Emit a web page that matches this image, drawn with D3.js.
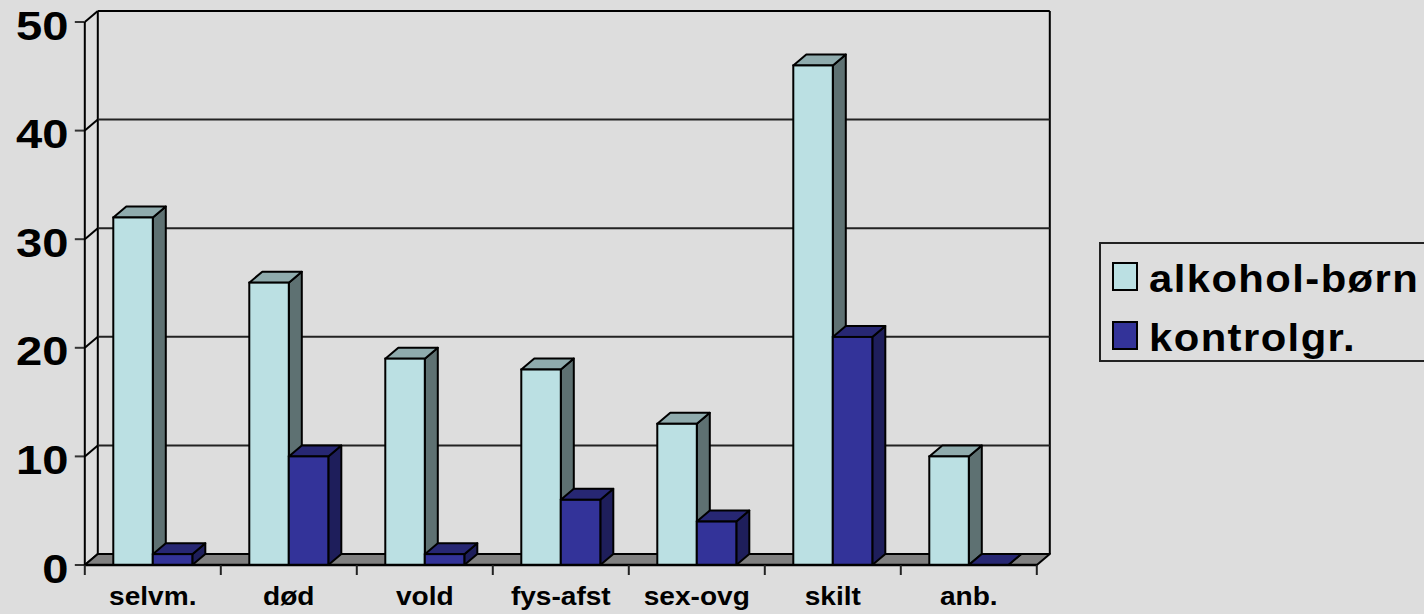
<!DOCTYPE html>
<html><head><meta charset="utf-8"><script src="https://cdn.jsdelivr.net/npm/d3@7"></script>
<style>html,body{margin:0;padding:0;background:#ddd;overflow:hidden}svg{display:block}text{font-family:"Liberation Sans",Arial,sans-serif;font-weight:bold;fill:#000}</style></head>
<body><svg width="1424" height="614"></svg>
<script>
const categories=["selvm.","død","vold","fys-afst","sex-ovg","skilt","anb."];
const seriesNames=["alkohol-børn","kontrolgr."];
const alkohol=[32,26,19,18,13,46,10];
const kontrol=[1,10,1,6,4,21,0];
const yTicks=[0,10,20,30,40,50];
const faces=[{front:"#BBE0E3",top:"#8FABAD",side:"#5E7172"},{front:"#333399",top:"#272773",side:"#1E1E5B"}];
const svg=d3.select("svg");
const x=d3.scaleBand().domain(categories).range([84.8,1036.8]);
const y=d3.scaleLinear().domain([0,50]).range([565,22]);
const dx=13,dy=-11,ink="#000";
const line=(a,b,c,d,w=2,col=ink)=>svg.append("line").attr("x1",a).attr("y1",b).attr("x2",c).attr("y2",d).attr("stroke",col).attr("stroke-width",w);
const poly=(pts,fill)=>svg.append("polygon").attr("points",pts.map(p=>p.join(",")).join(" ")).attr("fill",fill).attr("stroke",ink).attr("stroke-width",2).attr("stroke-linejoin","round");
const label=(px,py,size,sx,anchor,str,sp=0)=>svg.append("text").attr("transform",`translate(${px},${py}) scale(${sx},1)`).attr("text-anchor",anchor).attr("font-size",size).attr("letter-spacing",sp).text(str);
const [x0,x1]=x.range();
// walls
line(x0+dx,y(0)+dy,x0+dx,y(50)+dy);
line(x1+dx,y(0)+dy,x1+dx,y(50)+dy);
yTicks.forEach(t=>{
  line(x0+dx,y(t)+dy,x1+dx,y(t)+dy,2,t===50?ink:"#222");
  line(x0,y(t),x0+dx,y(t)+dy,2);
  line(x0-10,y(t),x0,y(t),2,"#333");
  label(68.5,y(t)+17.5,41,1.15,"end",t);
});
line(x0,y(0),x0,y(50));
// floor
poly([[x0,y(0)],[x1,y(0)],[x1+dx,y(0)+dy],[x0+dx,y(0)+dy]],"#808080");
// bars
const bw=x.bandwidth()*0.2905, off=x.bandwidth()*0.2095;
categories.forEach((c,i)=>{
  [alkohol[i],kontrol[i]].forEach((v,s)=>{
    const l=x(c)+off+s*bw,r=l+bw,t=y(v),b=y(0),f=faces[s];
    poly([[r,b],[r+dx,b+dy],[r+dx,t+dy],[r,t]],f.side);
    poly([[l,t],[r,t],[r+dx,t+dy],[l+dx,t+dy]],f.top);
    if(v>0)svg.append("rect").attr("x",l).attr("y",t).attr("width",bw).attr("height",b-t).attr("fill",f.front).attr("stroke",ink).attr("stroke-width",2);
  });
});
// axis
line(x0,y(0),x1,y(0),2.6);
x.domain().forEach(c=>line(x(c),y(0),x(c),y(0)+10,2,"#222"));
line(x1,y(0),x1,y(0)+10,2,"#222");
categories.forEach(c=>label(x(c)+x.bandwidth()/2,605,26,1.08,"middle",c));
// legend
svg.append("rect").attr("x",1100).attr("y",243).attr("width",340).attr("height",118).attr("fill","none").attr("stroke","#222").attr("stroke-width",2);
seriesNames.forEach((n,i)=>{
  svg.append("rect").attr("x",1113).attr("y",263+i*59).attr("width",24).attr("height",27).attr("fill",faces[i].front).attr("stroke",ink).attr("stroke-width",2);
  label(1149,291.5+i*59,38,1.1,"start",n,1.3);
});
</script></body></html>
